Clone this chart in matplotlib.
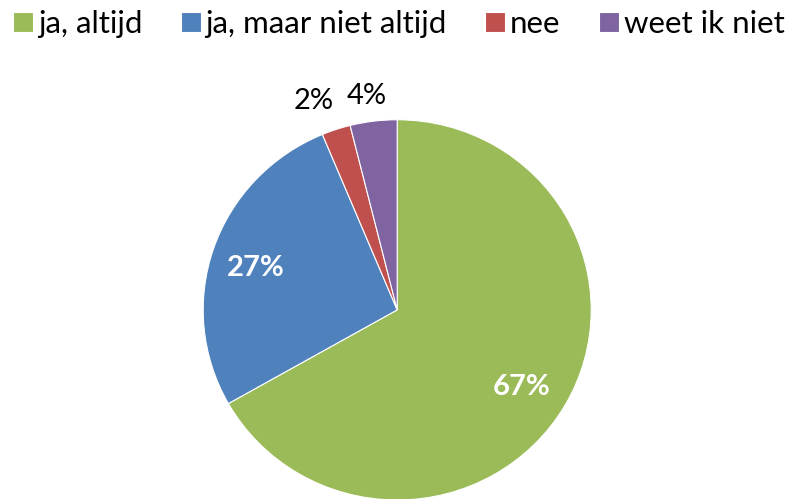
import numpy as np
import matplotlib
matplotlib.use("Agg")
import matplotlib.pyplot as plt

# answer categories and their shares
categories = ["ja, altijd", "ja, maar niet altijd", "nee", "weet ik niet"]
shares = [66.8, 26.9, 2.4, 3.9]
share_labels = ["67%", "27%", "2%", "4%"]
colors = ["#9BBB59", "#4F81BD", "#C0504D", "#8064A2"]

plt.rcParams["font.family"] = ["Lato", "DejaVu Sans"]

fig = plt.figure(figsize=(8, 4.99), dpi=100)
ax = fig.add_axes([0.254, -0.002, 0.485, 0.762])

wedges, _ = ax.pie(shares, colors=colors, startangle=90, counterclock=False,
                   wedgeprops=dict(edgecolor="white", linewidth=0.8))
ax.set_aspect("auto")
ax.set_xlim(-1, 1)
ax.set_ylim(-1, 1)

# label placement: inside for big slices, outside for the small ones
label_r = [0.757, 0.76, 1.18, 1.135]
label_nudge = [-2, 2, 3, 1]   # degrees
label_inside = [True, True, False, False]
for w, txt, r, dd, inside in zip(wedges, share_labels, label_r, label_nudge, label_inside):
    mid = np.deg2rad((w.theta1 + w.theta2) / 2 + dd)
    ax.text(r * np.cos(mid), r * np.sin(mid), txt,
            ha="center", va="center", fontsize=21,
            color="white" if inside else "black",
            fontweight="bold" if inside else "normal")

fig.legend(wedges, categories, loc="center left",
           bbox_to_anchor=(13 / 800, 1 - 24 / 499),
           ncol=4, frameon=False, fontsize=22.5, handlelength=0.64,
           handleheight=0.64, handletextpad=0.16, columnspacing=1.22,
           borderpad=0, borderaxespad=0)

plt.savefig("out.png", dpi=100)
